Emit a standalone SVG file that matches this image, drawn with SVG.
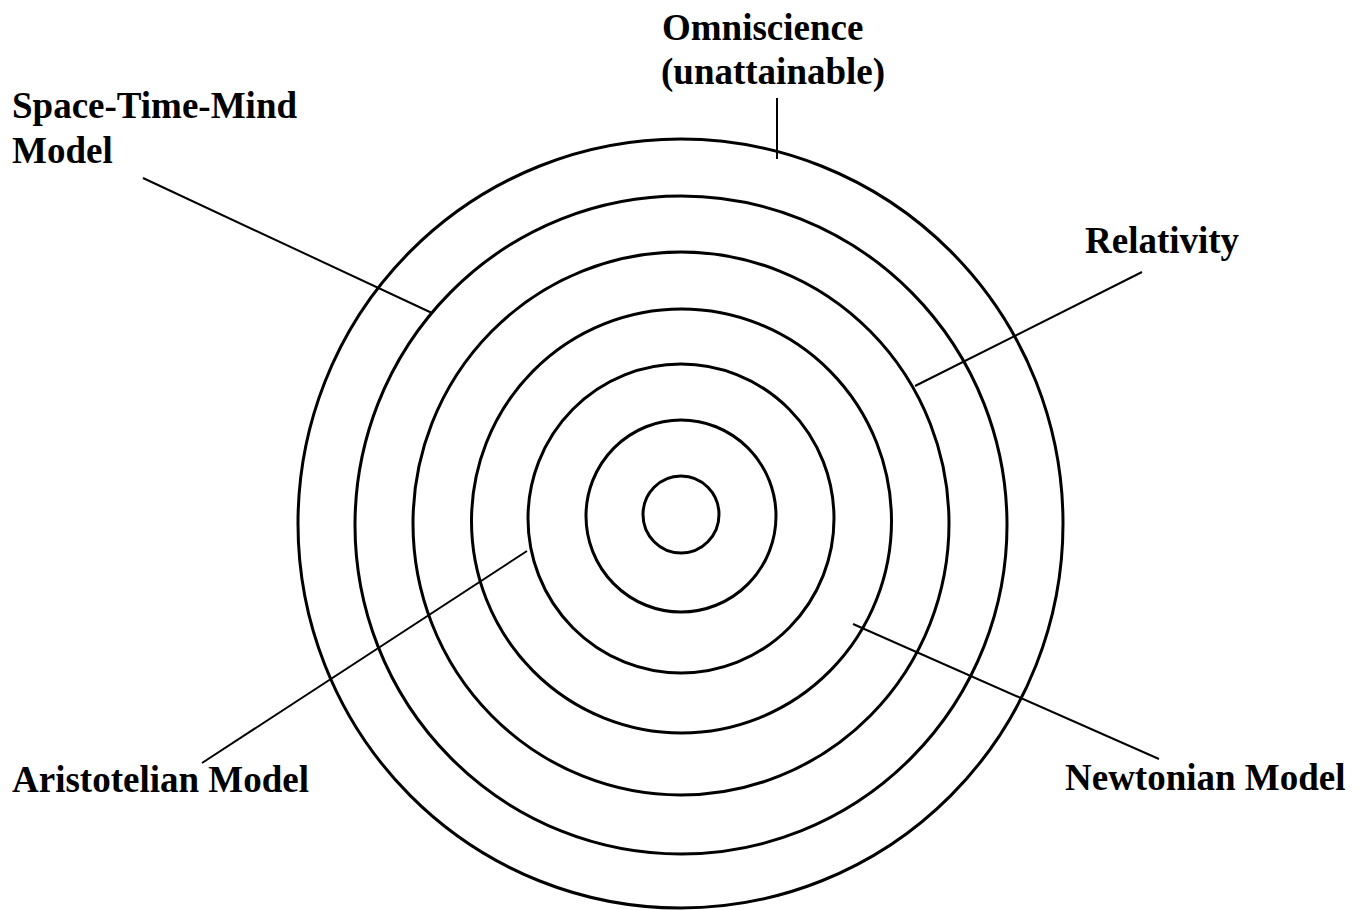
<svg xmlns="http://www.w3.org/2000/svg" width="1364" height="910" viewBox="0 0 1364 910">
<style>
.ring{fill:none;stroke:#000;stroke-width:3}
.lead{fill:none;stroke:#000;stroke-width:2}
.lbl{font-family:"Liberation Serif","Times New Roman",serif;font-weight:bold;font-size:37px;fill:#000}
</style>
<rect width="1364" height="910" fill="#fff"/>
<g id="rings">
<ellipse id="ring7" class="ring" cx="680.5" cy="523.5" rx="382.5" ry="384.5"/>
<ellipse id="ring6" class="ring" cx="681" cy="525" rx="326" ry="329"/>
<ellipse id="ring5" class="ring" cx="681" cy="523.5" rx="268" ry="271.5"/>
<ellipse id="ring4" class="ring" cx="681.5" cy="521" rx="210" ry="212"/>
<ellipse id="ring3" class="ring" cx="681" cy="518.5" rx="153" ry="154.5"/>
<ellipse id="ring2" class="ring" cx="681" cy="516" rx="95" ry="96"/>
<ellipse id="ring1" class="ring" cx="681" cy="514.5" rx="38" ry="38.5"/>
</g>
<g id="connectors">
<line class="lead" x1="777" y1="98" x2="777" y2="159"/>
<line class="lead" x1="143" y1="178" x2="432" y2="313"/>
<line class="lead" x1="1142" y1="272" x2="915" y2="386"/>
<line class="lead" x1="202" y1="763" x2="527" y2="551"/>
<line class="lead" x1="1159" y1="759" x2="853" y2="624"/>
</g>
<g id="label-omniscience">
<text class="lbl" x="662" y="40">Omniscience</text>
<text class="lbl" x="661" y="84">(unattainable)</text>
</g>
<g id="label-stm">
<text class="lbl" x="12" y="118">Space-Time-Mind</text>
<text class="lbl" x="12" y="163">Model</text>
</g>
<g id="label-relativity">
<text class="lbl" x="1085" y="253">Relativity</text>
</g>
<g id="label-aristotelian">
<text class="lbl" x="12" y="792">Aristotelian Model</text>
</g>
<g id="label-newtonian">
<text class="lbl" x="1065" y="790">Newtonian Model</text>
</g>
</svg>
